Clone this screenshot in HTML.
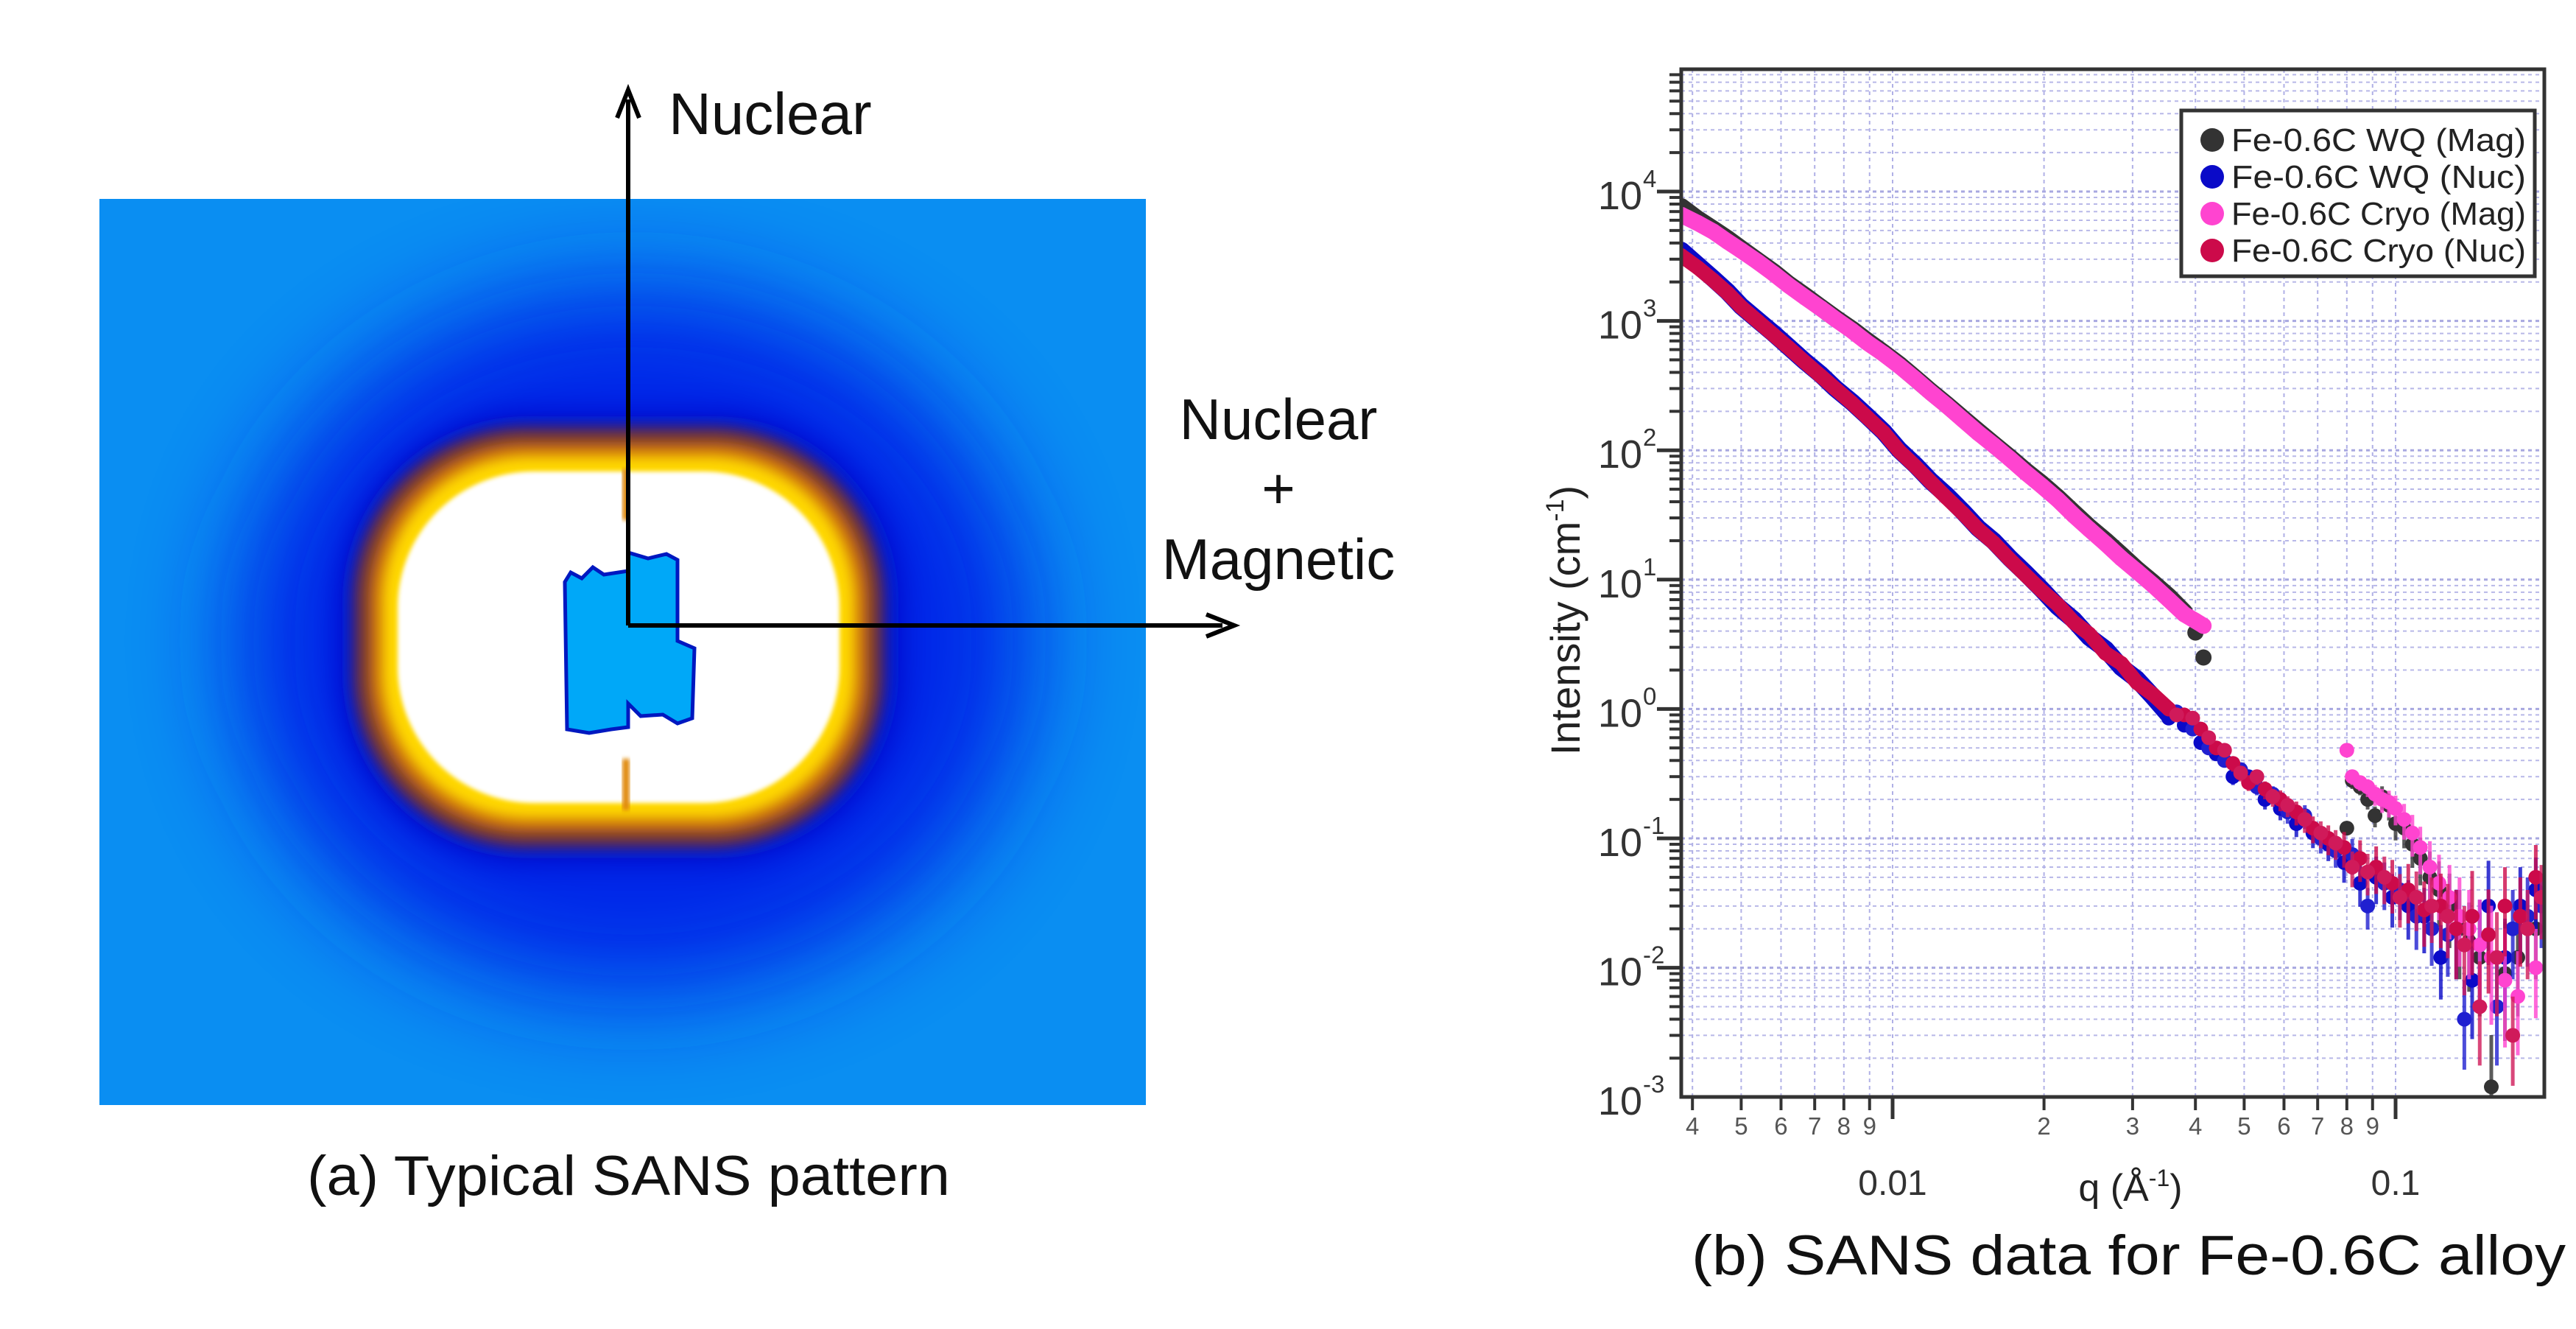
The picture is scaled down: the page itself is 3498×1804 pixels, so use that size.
<!DOCTYPE html>
<html><head><meta charset="utf-8"><style>
html,body{margin:0;padding:0;background:#fff;}
svg{display:block;}
text{font-family:"Liberation Sans",Arial,sans-serif;}
</style></head><body>
<svg id="root" width="3498" height="1804" viewBox="0 0 3498 1804" xmlns="http://www.w3.org/2000/svg">
<defs>
<filter id="b80" x="-30%" y="-30%" width="160%" height="160%"><feGaussianBlur stdDeviation="70"/></filter>
<filter id="b25" x="-20%" y="-20%" width="140%" height="140%"><feGaussianBlur stdDeviation="22"/></filter>
<filter id="b10" x="-20%" y="-20%" width="140%" height="140%"><feGaussianBlur stdDeviation="9"/></filter>
<filter id="b3"><feGaussianBlur stdDeviation="3"/></filter>
<clipPath id="patClip"><rect x="135" y="270" width="1421" height="1230"/></clipPath>
<clipPath id="plotClip"><rect x="2283" y="94" width="1172" height="1395"/></clipPath>
</defs>

<g clip-path="url(#patClip)">
  <rect x="135" y="270" width="1421" height="1230" fill="#0a8ef2"/>
  <ellipse cx="860" cy="870" rx="540" ry="480" fill="#0020e8" filter="url(#b80)" opacity="0.95"/>
  <rect x="465" y="565" width="755" height="600" rx="250" fill="#0010c8" filter="url(#b25)"/>
  <rect x="480" y="580" width="720" height="570" rx="235" fill="#6a3040" filter="url(#b10)"/>
  <rect x="500" y="600" width="680" height="530" rx="215" fill="#c86a10" filter="url(#b10)"/>
  <rect x="518" y="618" width="644" height="494" rx="200" fill="#ffd800" filter="url(#b10)"/>
  <rect x="540" y="640" width="600" height="450" rx="185" fill="#ffffff" filter="url(#b3)"/>
  <rect x="845" y="636" width="10" height="70" fill="#e08a10" filter="url(#b3)"/>
  <rect x="845" y="1030" width="10" height="70" fill="#e08a10" filter="url(#b3)"/>
  <path d="M767,790 L775,777 L790,785 L805,770 L820,780 L853,775 L853,750 L880,758 L905,752 L920,760 L920,870 L943,880 L940,975 L920,982 L900,970 L870,972 L853,955 L853,987 L830,990 L800,995 L770,990 Z" fill="#00a8f8" stroke="#0018c0" stroke-width="5"/>
</g>

<g stroke="#000" stroke-width="6" fill="none">
  <line x1="853" y1="849" x2="853" y2="135"/>
  <line x1="853" y1="849" x2="1660" y2="849"/>
  <path d="M838,160 L853,122 L868,160" stroke-linejoin="miter"/>
  <path d="M1638,834 L1676,849 L1638,864" stroke-linejoin="miter"/>
</g>
<text x="908" y="182" font-size="80" fill="#111">Nuclear</text>
<text x="1736" y="596" font-size="78" fill="#111" text-anchor="middle">Nuclear</text>
<text x="1736" y="690" font-size="78" fill="#111" text-anchor="middle">+</text>
<text x="1736" y="786" font-size="78" fill="#111" text-anchor="middle">Magnetic</text>
<text x="417" y="1622" font-size="76" fill="#111" textLength="873" lengthAdjust="spacingAndGlyphs">(a) Typical SANS pattern</text>
<text x="2297" y="1730" font-size="76" fill="#111" textLength="1187" lengthAdjust="spacingAndGlyphs">(b) SANS data for Fe-0.6C alloy</text>

<g id="chart"></g>
</svg>
<script>
// ---- data ----
const qLow = [0.0038,0.0041,0.0044,0.0047,0.0050,0.0054,0.0058,0.0062,0.0067,0.0072,0.0077,0.0083,0.0089,0.0096,0.0103,0.0111,0.0119,0.0128,0.0138,0.0148,0.0159,0.0171,0.0184,0.0198,0.0213,0.0229,0.0246,0.0265,0.0285,0.0306,0.0329,0.0354,0.0380,0.0400,0.0415];
const magWQLow = [7600,6100,5100,4300,3600,2900,2380,1930,1560,1270,1050,860,700,565,460,360,285,226,176,140,111,88,69,55,43,33,25.5,20,15.5,12,9.5,7.4,5.6,3.9,2.5];
const magCryoLow = [6600,5700,4900,4100,3500,2850,2320,1890,1520,1250,1030,840,680,555,450,354,280,222,172,136,109,86,67,53,41.5,31.5,24.5,19,14.6,11.6,9.1,7.0,5.4,4.8,4.4];
const nucWQLow = [3500,2700,2120,1680,1300,1010,800,635,485,385,300,236,184,139,101,77,58,45,33.5,25,19.8,14.7,11.2,8.4,6.2,4.9,3.6,2.9,2.1,1.7,1.25,0.90];
const nucCryoLow = [3200,2580,2060,1640,1280,990,780,625,478,375,298,232,180,137,99,75,57,43,32.5,24.5,19.2,14.3,10.8,8.2,6.4,4.7,3.8,2.7,2.25,1.6,1.3,1.0];
const qHi = [0.0354,0.0380,0.0410,0.0440,0.0475,0.0510,0.0550,0.0590,0.0635,0.0685,0.0735,0.0790,0.0850,0.0915,0.0985,0.106,0.114,0.123,0.132,0.142,0.153,0.165,0.177,0.190];
const nucWQHi = [0.85,0.75,0.55,0.45,0.30,0.30,0.20,0.17,0.13,0.11,0.09,0.065,0.045,0.05,0.035,0.03,0.025,0.012,0.02,0.008,0.03,0.012,0.03,0.04];
const nucCryoHi = [1.0,0.9,0.7,0.5,0.38,0.27,0.24,0.20,0.16,0.12,0.10,0.085,0.07,0.06,0.045,0.04,0.028,0.03,0.02,0.025,0.018,0.03,0.025,0.05];
const errHi = [0.02,0.03,0.03,0.04,0.05,0.05,0.06,0.07,0.08,0.09,0.1,0.12,0.14,0.16,0.18,0.2,0.22,0.25,0.3,0.35,0.35,0.3,0.3,0.25];
const qHi2 = [0.0367,0.0395,0.0425,0.0457,0.0492,0.053,0.057,0.061,0.066,0.071,0.076,0.082,0.088,0.095,0.102,0.110,0.118,0.127,0.137,0.147,0.159,0.171,0.183,0.195];
const nucWQHi2 = [0.95,0.7,0.5,0.40,0.34,0.25,0.22,0.16,0.15,0.10,0.08,0.075,0.03,0.045,0.04,0.025,0.02,0.018,0.004,0.015,0.005,0.02,0.025,0.03];
const nucCryoHi2 = [0.9,0.85,0.6,0.48,0.32,0.3,0.21,0.18,0.14,0.11,0.092,0.06,0.055,0.05,0.035,0.035,0.03,0.025,0.015,0.005,0.012,0.003,0.02,0.035];
const qMagHi = [0.080,0.082,0.085,0.088,0.091,0.094,0.097,0.100,0.104,0.108,0.112,0.117,0.122,0.128,0.134,0.140,0.147,0.155,0.165,0.175,0.190];
const magCryoHi = [0.48,0.30,0.27,0.25,0.22,0.20,0.19,0.17,0.14,0.11,0.085,0.06,0.045,0.035,0.025,0.02,0.015,0.012,0.008,0.006,0.01];
const magWQHi = [0.12,0.28,0.25,0.20,0.15,0.21,0.18,0.13,0.12,0.09,0.07,0.05,0.04,0.03,0.02,0.016,0.012,0.0012,0.009,0.012,0.02];
const errMagHi = [0.04,0.05,0.05,0.06,0.07,0.08,0.09,0.1,0.12,0.14,0.16,0.2,0.22,0.25,0.3,0.3,0.35,0.4,0.4,0.35,0.3];
const yTickExp = [4,3,2,1,0,-1,-2,-3];
const xMajor = [0.01,0.1];
const xMajorLabels = ["0.01","0.1"];
const xMinor = [0.004,0.005,0.006,0.007,0.008,0.009,0.02,0.03,0.04,0.05,0.06,0.07,0.08,0.09];
const xMinorLabels = ["4","5","6","7","8","9","2","3","4","5","6","7","8","9"];
const legendLabels = ["Fe-0.6C WQ (Mag)","Fe-0.6C WQ (Nuc)","Fe-0.6C Cryo (Mag)","Fe-0.6C Cryo (Nuc)"];
const legendColors = ["#333333","#0a0ac8","#ff44d0","#cc0a4a"];

// ---- axes ----
const L=2283,R=3455,T=94,B=1489;
function xs(q){return 2570+683*Math.log10(q/0.01);}
function ys(v){return 260+175.6*(4-Math.log10(v));}
const NS="http://www.w3.org/2000/svg";
const chart=document.getElementById('chart');
function mk(tag,attrs,parent){const e=document.createElementNS(NS,tag);for(const k in attrs)e.setAttribute(k,attrs[k]);(parent||chart).appendChild(e);return e;}

const grid=mk('g',{'clip-path':'url(#plotClip)'});


for(let e=-3;e<=4;e++){for(let m=1;m<=9;m++){const v=m*Math.pow(10,e);const y=ys(v);if(y<T||y>B)continue;
  const ln=mk('line',{x1:L,x2:R,y1:y,y2:y,stroke:m===1?'#a8a8e0':'#b8b8e8','stroke-width':m===1?3:2,'stroke-dasharray':'5 5'},grid);
  
  
  const tk=mk('line',{x1:m===1?2250:2267,x2:L,y1:y,y2:y,stroke:'#333','stroke-width':m===1?5:4});
  
  
}}
const allX=xMinor.concat(xMajor);
allX.forEach(q=>{const x=xs(q);const ln=mk('line',{x1:x,x2:x,y1:T,y2:B,stroke:'#b0b0e6','stroke-width':2,'stroke-dasharray':'5 5'},grid);
  
  });
xMinor.forEach((q,i)=>{const x=xs(q);
  const tk=mk('line',{x1:x,x2:x,y1:B,y2:B+18,stroke:'#333','stroke-width':4});
  
  
  const t=mk('text',{x:x,y:1540,'font-size':33,'text-anchor':'middle',fill:'#555'});t.textContent=xMinorLabels[i];
  
  });
xMajor.forEach((q,i)=>{const x=xs(q);
  const tk=mk('line',{x1:x,x2:x,y1:B,y2:B+30,stroke:'#333','stroke-width':5});
  
  
  const t=mk('text',{x:x,y:1622,'font-size':48,'text-anchor':'middle',fill:'#333'});t.textContent=xMajorLabels[i];
  
  });
yTickExp.forEach(e=>{const y=ys(Math.pow(10,e));
  const t=mk('text',{x:2230,y:y+24,'font-size':54,'text-anchor':'end',fill:'#333'});t.textContent='10';
  
  
  const s=mk('text',{x:2231,y:y-6,'font-size':33,fill:'#333'});s.textContent=String(e);
  
  });

// ---- series ----
const data=mk('g',{'clip-path':'url(#plotClip)'});


function series(name,color,qs,vals,errs,r){const g=mk('g',{},data);
  
  
  qs.forEach((q,i)=>{const v=vals[i];if(v===undefined)return;const x=xs(q),y=ys(v);
    if(errs){const d=errs[i];const b=mk('line',{x1:x,x2:x,y1:ys(v*Math.pow(10,d)),y2:Math.min(B+20,ys(v/Math.pow(10,d*1.3))),stroke:color,'stroke-width':5,opacity:0.8},g);
      
      }
    const c=mk('circle',{cx:x,cy:y,r:r,fill:color},g);
    
    });}
function band(name,color,qs,vals,w){const pts=qs.slice(0,vals.length).map((q,i)=>xs(q)+','+ys(vals[i])).join(' ');
  const p=mk('polyline',{points:pts,fill:'none',stroke:color,'stroke-width':w,'stroke-linejoin':'round','stroke-linecap':'round'},data);
  
  }
band('wq-mag-band','#333333',qLow.slice(0,33),magWQLow.slice(0,33),24);
series('wq-mag-series','#333333',qLow,magWQLow,null,11);
series('wq-mag-highq','#333333',qMagHi,magWQHi,errMagHi,10);
band('wq-nuc-band','#0a0ac8',qLow,nucWQLow,24);
series('wq-nuc-series','#0a0ac8',qLow,nucWQLow,null,11);
series('wq-nuc-highq','#0a0ac8',qHi,nucWQHi,errHi,10);
series('wq-nuc-highq-2','#2020d0',qHi2,nucWQHi2,errHi,10);
band('cryo-mag-band','#ff44d0',qLow,magCryoLow,22);
series('cryo-mag-series','#ff44d0',qLow,magCryoLow,null,11);
series('cryo-mag-highq','#ff44d0',qMagHi,magCryoHi,errMagHi,10);
band('cryo-nuc-band','#cc0a4a',qLow,nucCryoLow,20);
series('cryo-nuc-series','#cc0a4a',qLow,nucCryoLow,null,10);
series('cryo-nuc-highq','#cc0a4a',qHi,nucCryoHi,errHi,10);
series('cryo-nuc-highq-2','#d01a5a',qHi2,nucCryoHi2,errHi,10);

// frame
const fr=mk('rect',{x:L,y:T,width:R-L,height:B-T,fill:'none',stroke:'#333','stroke-width':5});



// legend
const lg=mk('g',{});


const lb=mk('rect',{x:2962,y:150,width:480,height:225,fill:'#fff',stroke:'#333','stroke-width':5},lg);


legendLabels.forEach((s,i)=>{const y=190+i*50;
  const c=mk('circle',{cx:3004,cy:y,r:16,fill:legendColors[i]},lg);
  
  
  const t=mk('text',{x:3030,y:y+15,'font-size':44,fill:'#222',textLength:400,lengthAdjust:'spacingAndGlyphs'},lg);t.textContent=s;
  
  });

// axis titles
const yt=mk('text',{x:0,y:0,'font-size':56,fill:'#222','text-anchor':'middle',transform:'translate(2145,842) rotate(-90)'});
yt.innerHTML='Intensity (cm<tspan font-size="34" dy="-22">-1</tspan><tspan dy="22">)</tspan>';


const xt=mk('text',{x:2893,y:1630,'font-size':52,fill:'#222','text-anchor':'middle'});
xt.innerHTML='q (Å<tspan font-size="32" dy="-20">-1</tspan><tspan dy="20">)</tspan>';


</script>
</body></html>
